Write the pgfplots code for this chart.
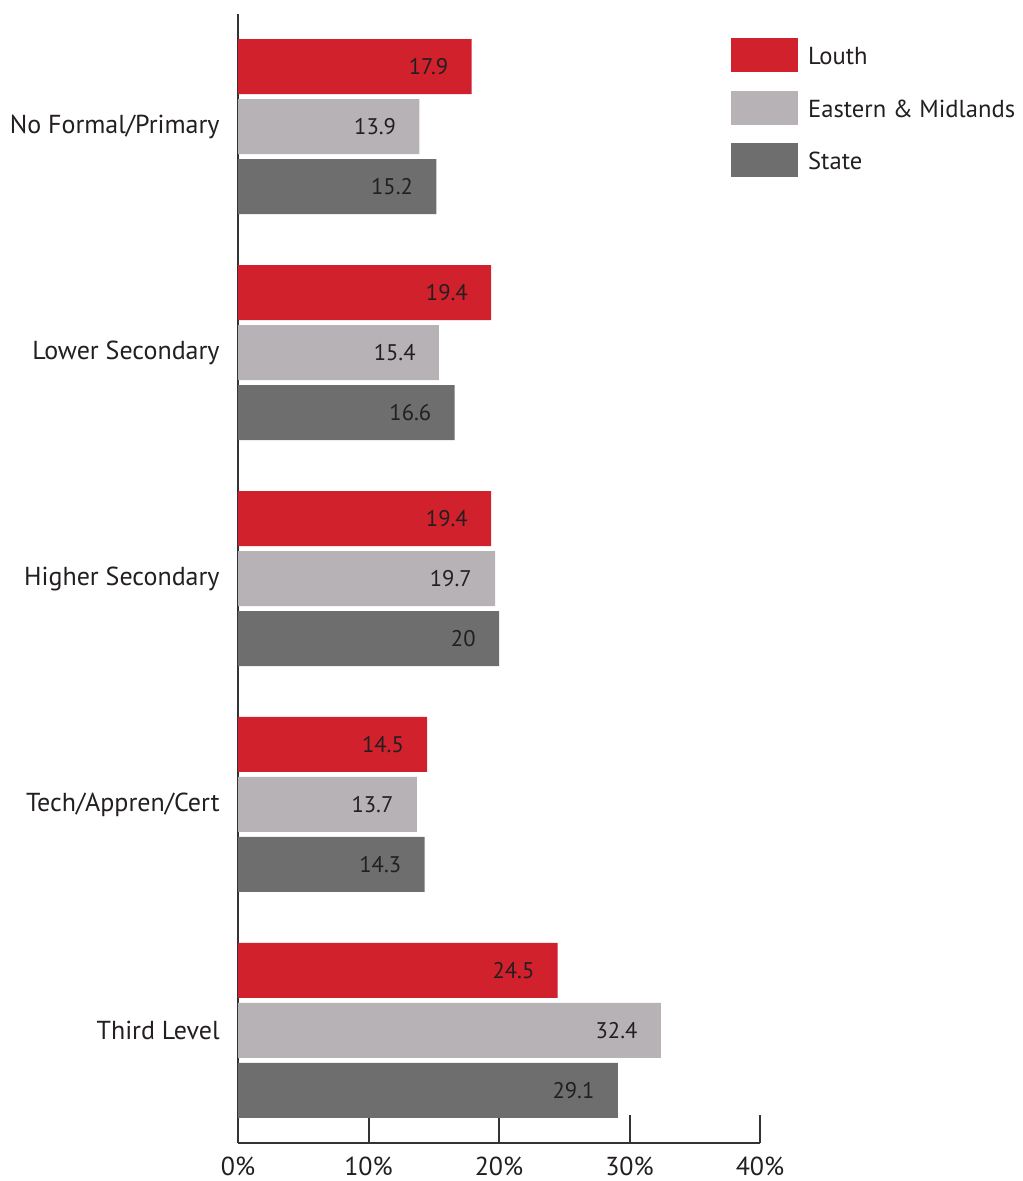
\documentclass[border=0pt]{standalone}
\usepackage{pgfplots}
\pgfplotsset{compat=1.18}
\usepackage{fontspec}
\setmainfont{PT Sans}
\definecolor{louth}{HTML}{D0212D}
\definecolor{eastmid}{HTML}{B7B2B5}
\definecolor{state}{HTML}{6E6E6E}
\definecolor{axisc}{HTML}{333333}
\definecolor{txt}{HTML}{231F20}
\begin{document}
\begin{tikzpicture}
\useasboundingbox (0pt,0pt) rectangle (511pt,590.5pt);
\begin{axis}[
    at={(119pt,19pt)}, anchor=south west,
    scale only axis, width=261pt, height=564.5pt,
    xmin=0, xmax=40, ymin=-0.498, ymax=4.498, y dir=reverse,
    xbar, bar width=27.5pt,
    axis x line=bottom, axis y line=left,
    axis line style={-, line width=1pt, color=axisc},
    xtick={0,10,20,30,40},
    xticklabels={0\%,10\%,20\%,30\%,40\%},
    tick align=inside, major tick length=14pt,
    x tick style={line width=1pt, color=axisc},
    y tick style={draw=none},
    xticklabel style={inner sep=0pt, anchor=north, yshift=-7pt, font=\fontsize{13}{15}\selectfont, text=txt},
    ytick={0,1,2,3,4},
    yticklabels={No Formal/Primary,Lower Secondary,Higher Secondary,Tech/Appren/Cert,Third Level},
    yticklabel style={inner sep=0pt, anchor=east, xshift=-9pt, font=\fontsize{13}{15}\selectfont, text=txt},
    nodes near coords={\pgfmathprintnumber[assume math mode=true]{\pgfplotspointmeta}},
    every node near coord/.append style={anchor=east, inner sep=0pt, xshift=-11.5pt, font=\fontsize{11.3}{13}\selectfont, text=txt},
    legend cell align=left,
    legend image code/.code={\fill[#1] (0pt,-7.5pt) rectangle (33.5pt,9.5pt);},
    legend style={at={(axis description cs:0.944,0.9787)}, anchor=north west,
        draw=none, fill=none, inner sep=0pt, row sep=9.2pt,
        nodes={inner sep=0pt}, font=\fontsize{12.3}{14}\selectfont, text=txt,
        /tikz/every odd column/.append style={column sep=5pt}},
]
\addplot[draw=none, fill=louth, bar shift=30pt] coordinates {
    (17.9,0) (19.4,1) (19.4,2) (14.5,3) (24.5,4)};
\addplot[draw=none, fill=eastmid, bar shift=0pt] coordinates {
    (13.9,0) (15.4,1) (19.7,2) (13.7,3) (32.4,4)};
\addplot[draw=none, fill=state, bar shift=-30pt] coordinates {
    (15.2,0) (16.6,1) (20,2) (14.3,3) (29.1,4)};
\legend{Louth, Eastern \& Midlands, State}
\end{axis}
\end{tikzpicture}
\end{document}
